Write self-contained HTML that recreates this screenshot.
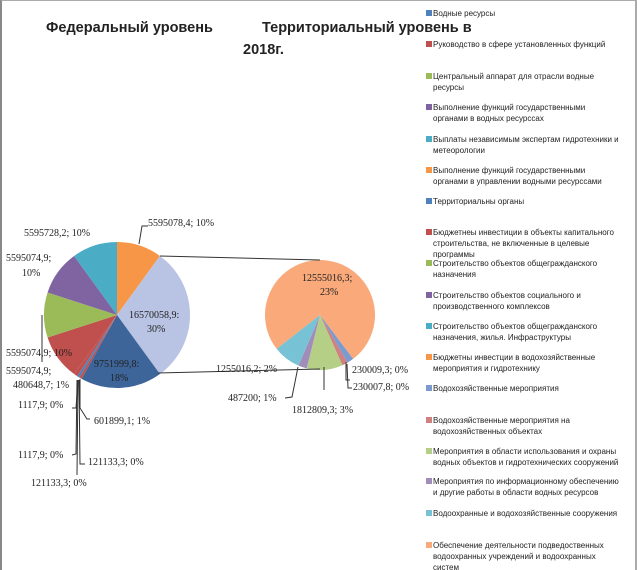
<!DOCTYPE html>
<html><head><meta charset="utf-8"><style>
body{margin:0;background:#fff}
#w{position:relative;width:637px;height:570px;overflow:hidden;font-family:"Liberation Sans","DejaVu Sans",sans-serif;box-sizing:border-box;border-left:2px solid #888;border-top:1px solid #aaa;border-right:2px solid #aaa}
.lg{position:absolute;left:431px;font-size:8px;line-height:11px;color:#222;width:188px}
.lg i{position:absolute;left:-7px;top:2px;width:6px;height:6px}
</style></head><body><div id="w">
<svg width="637" height="570" style="position:absolute;left:-2px;top:-1px" font-family="Liberation Serif, DejaVu Serif, serif" font-size="10" fill="#222">
<text x="46" y="32" font-family="Liberation Sans, sans-serif" font-weight="bold" font-size="14.5">Федеральный уровень</text>
<text x="262" y="32" font-family="Liberation Sans, sans-serif" font-weight="bold" font-size="14.5">Территориальный уровень в</text>
<text x="243" y="54" font-family="Liberation Sans, sans-serif" font-weight="bold" font-size="14.5">2018г.</text>
<g id="p1"></g><g id="p2"></g>
<g stroke="#333" stroke-width="1" fill="none">
<line x1="160" y1="256" x2="320" y2="260"/><line x1="158" y1="373" x2="320" y2="369"/>
<polyline points="139,244 142,226 148,226"/>
<polyline points="42,315 42,362"/>
<polyline points="80,379 80,408 87,419 90,419"/>
<polyline points="78,380 76,408 72,408"/>
<polyline points="77,380 76,454 72,455"/>
<polyline points="78,380 77,475"/>
<polyline points="79,380 80,464 85,464"/>
<polyline points="298,367 292,397 285,398"/>
<polyline points="324,367 324,390"/>
<polyline points="346,362 346,380 350,380"/>
<polyline points="347,364 348,388 352,388"/>
</g>
<text x="148" y="226">5595078,4; 10%</text>
<text x="24" y="236">5595728,2; 10%</text>
<text x="6" y="261">5595074,9;</text>
<text x="22" y="276">10%</text>
<text x="129" y="318">16570058,9:</text>
<text x="147" y="332">30%</text>
<text x="6" y="356">5595074,9; 10%</text>
<text x="94" y="367">9751999,8:</text>
<text x="110" y="381">18%</text>
<text x="6" y="374">5595074,9;</text>
<text x="13" y="388">480648,7; 1%</text>
<text x="18" y="408">1117,9; 0%</text>
<text x="94" y="424">601899,1; 1%</text>
<text x="18" y="458">1117,9; 0%</text>
<text x="88" y="465">121133,3; 0%</text>
<text x="31" y="486">121133,3; 0%</text>
<text x="302" y="281">12555016,3;</text>
<text x="320" y="295">23%</text>
<text x="216" y="372">1255016,2; 2%</text>
<text x="228" y="401">487200; 1%</text>
<text x="292" y="413">1812809,3; 3%</text>
<text x="352" y="373">230009,3; 0%</text>
<text x="353" y="390">230007,8; 0%</text>
</svg>
<div class="lg" style="top:7px"><i style="background:#4F81BD"></i>Водные ресурсы</div>
<div class="lg" style="top:38px"><i style="background:#C0504D"></i>Руководство в сфере установленных функций</div>
<div class="lg" style="top:70px"><i style="background:#9BBB59"></i>Центральный аппарат для отрасли водные ресурсы</div>
<div class="lg" style="top:101px"><i style="background:#8064A2"></i>Выполнение функций государственными органами в водных ресурссах</div>
<div class="lg" style="top:133px"><i style="background:#4BACC6"></i>Выплаты независимым экспертам гидротехники и метеорологии</div>
<div class="lg" style="top:164px"><i style="background:#F79646"></i>Выполнение функций государственными органами в управлении водными ресурссами</div>
<div class="lg" style="top:195px"><i style="background:#4F81BD"></i>Территориальны органы</div>
<div class="lg" style="top:226px"><i style="background:#C0504D"></i>Бюджетнеы инвестиции в объекты капитального строительства, не включенные в целевые программы</div>
<div class="lg" style="top:257px"><i style="background:#9BBB59"></i>Строительство объектов общегражданского назначения</div>
<div class="lg" style="top:289px"><i style="background:#8064A2"></i>Строительство объектов социального и производственного комплексов</div>
<div class="lg" style="top:320px"><i style="background:#4BACC6"></i>Строительство объектов общегражданского назначения, жилья. Инфраструктуры</div>
<div class="lg" style="top:351px"><i style="background:#F79646"></i>Бюджетны инвестции в водохозяйственные мероприятия и гидротехнику</div>
<div class="lg" style="top:382px"><i style="background:#7A9AD0"></i>Водохозяйственные мероприятия</div>
<div class="lg" style="top:414px"><i style="background:#D0807E"></i>Водохозяйственные мероприятия на водохозяйственных объектах</div>
<div class="lg" style="top:445px"><i style="background:#B5CF87"></i>Мероприятия в области использования и охраны водных объектов и гидротехнических сооружений</div>
<div class="lg" style="top:475px"><i style="background:#A08DBA"></i>Мероприятия по информационному обеспечению и другие работы в области водных ресурсов</div>
<div class="lg" style="top:507px"><i style="background:#78C2D6"></i>Водоохранные и водохозяйственные сооружения</div>
<div class="lg" style="top:539px"><i style="background:#F9A97A"></i>Обеспечение деятельности подведоственных водоохранных учреждений и водоохранных систем</div>
</div>
<script>
function pie(id,cx,cy,r,sl){var g=document.getElementById(id),s='';
sl.forEach(function(d){var a0=d[0]*Math.PI/180,a1=d[1]*Math.PI/180;
var x0=cx+r*Math.sin(a0),y0=cy-r*Math.cos(a0),x1=cx+r*Math.sin(a1),y1=cy-r*Math.cos(a1);
s+='<path d="M'+cx+','+cy+' L'+x0+','+y0+' A'+r+','+r+' 0 '+((d[1]-d[0])>180?1:0)+' 1 '+x1+','+y1+' Z" fill="'+d[2]+'"/>';});
g.innerHTML=s;}
pie('p1',117,315,73,[[0,36,'#F79646'],[36,144,'#B9C4E4'],[144,209,'#3D659A'],[209,211,'#C0504D'],[211,213,'#4F81BD'],[213,216,'#C0504D'],[216,252,'#C0504D'],[252,288,'#9BBB59'],[288,324,'#8064A2'],[324,360,'#4BACC6']]);
pie('p2',320,315,55,[[-128,143,'#F9A97A'],[143,150,'#7A9AD0'],[150,156,'#D0807E'],[156,194,'#B5CF87'],[194,203,'#A08DBA'],[203,232,'#78C2D6']]);
</script>
</body></html>
